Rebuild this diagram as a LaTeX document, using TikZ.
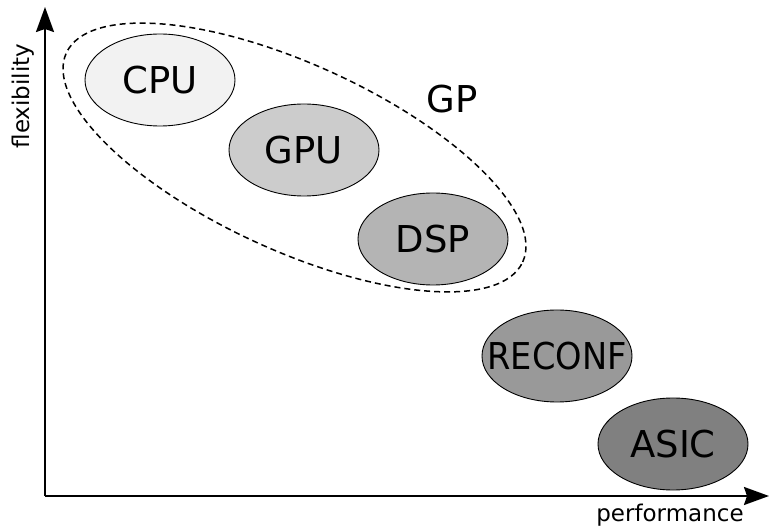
\documentclass[tikz,border=0pt]{standalone}
\usepackage{fontspec}
\usepackage{graphicx}
\setmainfont{DejaVu Sans}
\usetikzlibrary{shapes.geometric,arrows.meta}

\tikzset{
  unit/.style={ellipse, draw=black, line width=0.9pt, minimum width=150pt,
    minimum height=92pt, inner sep=0pt, font=\fontsize{37}{40}\selectfont},
  axis/.style={line width=2pt, -{Stealth[length=25pt,width=18pt,inset=3pt]}},
  axislabel/.style={font=\fontsize{23}{26}\selectfont, inner sep=0pt},
  group/.style={ellipse, draw=black, dash pattern=on 6pt off 4pt,
    line width=1.5pt, inner sep=0pt}
}

\begin{document}
\begin{tikzpicture}[x=1pt,y=-1pt]
  \useasboundingbox (0,0) rectangle (769,529);

  % axes
  \coordinate (origin) at (45,496);
  \coordinate (ytop) at (45,7);
  \coordinate (xend) at (769,496);
  \draw[axis] (origin) -- (ytop);
  \draw[axis] (origin) -- (xend);
  \node[axislabel, rotate=90] (flex) at (23,96) {flexibility};
  \node[axislabel] (perf) at (670,515) {performance};

  % general-purpose group
  \node[group, rotate=-24.6, minimum width=502pt, minimum height=186pt]
    (gpgroup) at (294.5,157.5) {};
  \node[font=\fontsize{37}{40}\selectfont, inner sep=0pt] (gplabel) at (452,99) {GP};

  % processor classes
  \node[unit, fill={rgb,255:red,242;green,242;blue,242}] (cpu) at (160,80) {CPU};
  \node[unit, fill={rgb,255:red,204;green,204;blue,204}] (gpu) at (304,150) {GPU};
  \node[unit, fill={rgb,255:red,180;green,180;blue,180}] (dsp) at (433,239) {DSP};
  \node[unit, fill={rgb,255:red,153;green,153;blue,153}] (reconf) at (557,356)
    {\makebox[0pt]{\scalebox{0.91}[1]{RECONF}}};
  \node[unit, fill={rgb,255:red,128;green,128;blue,128}] (asic) at (673,444) {ASIC};
\end{tikzpicture}
\end{document}
